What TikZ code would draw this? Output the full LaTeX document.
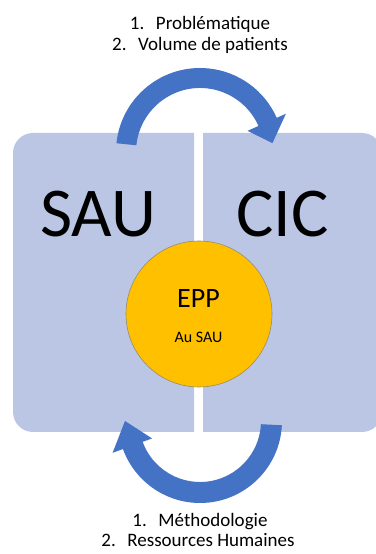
\documentclass[tikz,border=0pt]{standalone}
\usepackage{fontspec}
\setmainfont{Carlito}
\usepackage{xcolor}
\definecolor{boxblue}{RGB}{187,198,228}
\definecolor{arrowblue}{RGB}{68,114,196}
\definecolor{eppgold}{RGB}{255,192,0}
\definecolor{eppline}{RGB}{150,140,110}
\usetikzlibrary{positioning}
\tikzset{
  panel/.style={fill=boxblue, draw=none},
  looparrow/.style={fill=arrowblue, draw=none},
  bigtag/.style={font=\fontsize{70}{74}\selectfont, anchor=base, inner sep=0pt},
  eppdisc/.style={circle, fill=eppgold, draw=eppline, line width=0.6pt,
                  minimum size=146pt, inner sep=0pt},
  listline/.style={font=\fontsize{19}{22}\selectfont, anchor=base, inner sep=0pt},
}
\newcommand{\itemnum}[1]{\makebox[26pt][l]{#1}}

\begin{document}
\begin{tikzpicture}[x=1pt, y=1pt]
\useasboundingbox (0,0) rectangle (375,554);
% Two panels
\fill[panel] (194,421) -- (33,421) arc[start angle=90, end angle=180, radius=20]
  -- (13,142) arc[start angle=180, end angle=270, radius=20] -- (194,122) -- cycle;
\fill[panel] (203,421) -- (362,421) arc[start angle=90, end angle=0, radius=20]
  -- (382,142) arc[start angle=0, end angle=-90, radius=20] -- (203,122) -- cycle;
% Panel titles
\node[bigtag] (sau) at (98,317) {SAU};
\node[bigtag] (cic) at (282.5,317) {CIC};
% Top curved arrow: SAU -> CIC
\coordinate (topc) at (200,402);
\fill[looparrow] ([shift={(174:84)}]topc) arc[start angle=174, end angle=24, radius=84]
  -- ([shift={(24:94)}]topc) -- ([shift={(7:73)}]topc) -- ([shift={(24:52)}]topc)
  -- ([shift={(24:64)}]topc) arc[start angle=24, end angle=174, radius=64] -- cycle;
% Bottom curved arrow: CIC -> SAU
\coordinate (botc) at (200,133);
\fill[looparrow] ([shift={(-3:82)}]botc) arc[start angle=-3, end angle=-160, radius=82]
  -- ([shift={(-160:93)}]botc) -- ([shift={(180:75)}]botc) -- ([shift={(-160:51)}]botc)
  -- ([shift={(-160:61)}]botc) arc[start angle=-160, end angle=-3, radius=61] -- cycle;
% Centre disc
\node[eppdisc] (epp) at (199,240) {};
\node[font=\fontsize{28}{30}\selectfont, anchor=base, inner sep=0pt] (epptitle) at (198.5,246) {EPP};
\node[font=\fontsize{16}{18}\selectfont, anchor=base, inner sep=0pt] (eppsub) at (198.5,211) {Au SAU};
% Top list
\node[listline] (prob) at (200,524.7) {\itemnum{1.}Problématique};
\node[listline] (vol) at (200,503.3) {\itemnum{2.}Volume de patients};
% Bottom list
\node[listline] (meth) at (200,27.3) {\itemnum{1.}Méthodologie};
\node[listline] (rh) at (198,7.3) {\itemnum{2.}Ressources Humaines};
\end{tikzpicture}
\end{document}
